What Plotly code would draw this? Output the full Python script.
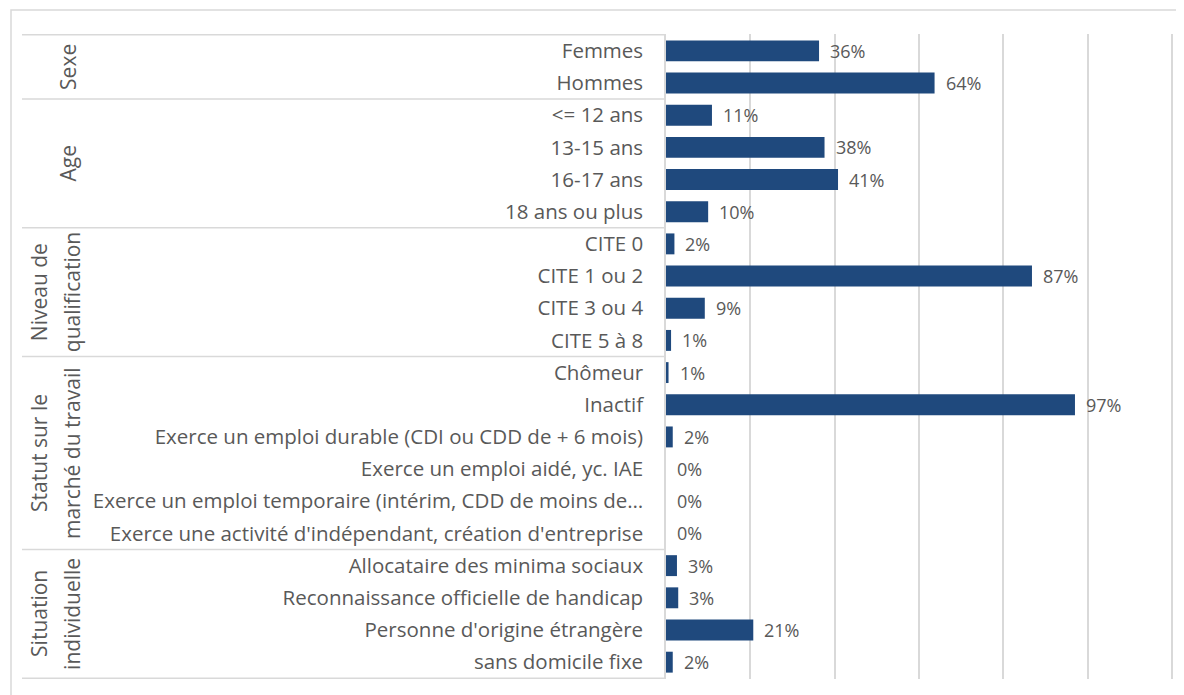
import plotly.graph_objects as go

# ---- Data ----
categories = [
    "Femmes", "Hommes",
    "<= 12 ans", "13-15 ans", "16-17 ans", "18 ans ou plus",
    "CITE 0", "CITE 1 ou 2", "CITE 3 ou 4", "CITE 5 à 8",
    "Chômeur", "Inactif",
    "Exerce un emploi durable (CDI ou CDD de + 6 mois)",
    "Exerce un emploi aidé, yc. IAE",
    "Exerce un emploi temporaire (intérim, CDD de moins de…",
    "Exerce une activité d'indépendant, création d'entreprise",
    "Allocataire des minima sociaux",
    "Reconnaissance officielle de handicap",
    "Personne d'origine étrangère",
    "sans domicile fixe",
]
values = [
    0.363, 0.637,
    0.109, 0.376, 0.408, 0.100,
    0.020, 0.868, 0.092, 0.012,
    0.006, 0.970, 0.016, 0.0, 0.0, 0.0,
    0.026, 0.029, 0.207, 0.016,
]
group_labels = [
    ["Sexe"],
    ["Age"],
    ["Niveau de", "qualification"],
    ["Statut sur le", "marché du travail"],
    ["Situation", "individuelle"],
]
group_sizes = [2, 4, 4, 6, 4]

# ---- Layout geometry (pixels, relative to figure origin; page body has 8px margin) ----
OFF = 8
W, H = 1184 - OFF, 695 - OFF
PL, PR, PT, PB = 666 - OFF, 1173 - OFF, 34 - OFF, 679 - OFF
pw, ph = PR - PL, PB - PT


def px_x(px):
    return (px - OFF - PL) / pw


def px_y(py):
    return (PB - (py - OFF)) / ph


BAR = "#1F497D"
TXT = "#595959"
GRID = "#D9D9D9"
FONT = "Open Sans"

fig = go.Figure(
    go.Bar(
        x=values,
        y=categories,
        orientation="h",
        marker=dict(color=BAR, line=dict(width=0)),
        width=0.65,
        hoverinfo="x+y",
    )
)

annotations = []
# data labels
for c, v in zip(categories, values):
    annotations.append(dict(
        x=v, y=c, xref="x", yref="y", text=f"{round(v * 100):.0f}%",
        showarrow=False, xanchor="left", yanchor="middle", xshift=9,
        font=dict(family=FONT, size=18, color=TXT),
    ))

shapes = []
# group separators + group labels
start = 0
bounds = [-0.5]
for lines, n in zip(group_labels, group_sizes):
    center = start + (n - 1) / 2
    if len(lines) == 1:
        xs = [68]
    else:
        xs = [39, 72]
    for xp, t in zip(xs, lines):
        annotations.append(dict(
            x=px_x(xp), y=center, xref="paper", yref="y", text=t,
            showarrow=False, textangle=-90, xanchor="center", yanchor="middle",
            font=dict(family=FONT, size=21, color=TXT),
        ))
    start += n
    bounds.append(start - 0.5)

for b in bounds:
    shapes.append(dict(
        type="line", xref="paper", yref="y", x0=px_x(22), x1=0, y0=b, y1=b,
        line=dict(color=GRID, width=1.5), layer="below",
    ))

# outer chart frame
shapes.append(dict(
    type="rect", xref="paper", yref="paper",
    x0=px_x(11), x1=px_x(1230), y0=px_y(740), y1=px_y(10),
    line=dict(color=GRID, width=1.5), fillcolor="rgba(0,0,0,0)", layer="below",
))

fig.update_layout(
    width=W, height=H, autosize=False,
    margin=dict(l=PL, r=W - PR, t=PT, b=H - PB, pad=0),
    paper_bgcolor="white", plot_bgcolor="white",
    showlegend=False,
    annotations=annotations,
    shapes=shapes,
    font=dict(family=FONT, color=TXT),
)
fig.update_xaxes(
    range=[0, 1.2025], tickvals=[0.2, 0.4, 0.6, 0.8, 1.0, 1.2],
    showgrid=True, gridcolor=GRID, gridwidth=1.5,
    showticklabels=False, zeroline=False, showline=False, fixedrange=True,
)
fig.update_yaxes(
    autorange="reversed", showgrid=False, zeroline=False,
    showline=True, linecolor=GRID, linewidth=1.5,
    ticks="", ticklabelstandoff=17,
    tickfont=dict(family=FONT, size=20.5, color=TXT), fixedrange=True,
)

fig.write_html("out.html")
